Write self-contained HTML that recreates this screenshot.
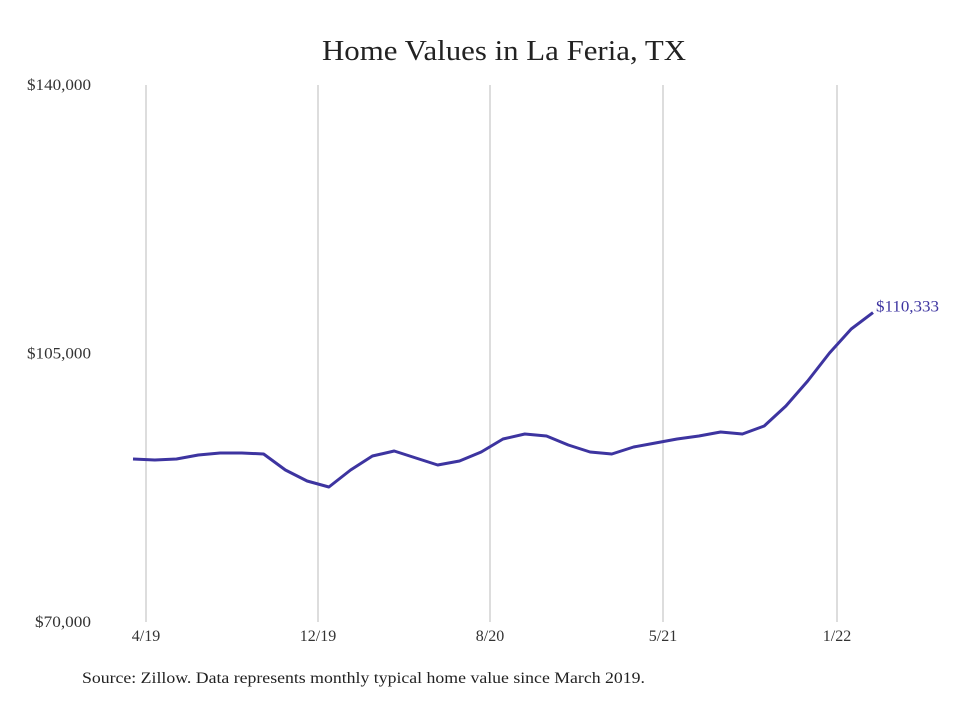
<!DOCTYPE html>
<html><head><meta charset="utf-8"><style>
body{margin:0;background:#fff;}
svg text{font-family:"Liberation Serif",serif;}
</style></head><body>
<svg width="980" height="699" viewBox="0 0 980 699">
<rect width="980" height="699" fill="#fff"/>
<text x="322" y="60" font-size="28" textLength="364" lengthAdjust="spacingAndGlyphs" fill="#222">Home Values in La Feria, TX</text>
<g id="grid"></g>
<g id="yticks"></g>
<g id="xticks"></g>
<path id="line" fill="none" stroke="#3d34a0" stroke-width="3" stroke-linejoin="round"/>
<text id="endlabel" font-size="16" textLength="63" lengthAdjust="spacingAndGlyphs" fill="#3d34a0"></text>
<text x="82" y="683" font-size="16" textLength="563" lengthAdjust="spacingAndGlyphs" fill="#222">Source: Zillow. Data represents monthly typical home value since March 2019.</text>
</svg>
<script>
const values=[91247,91117,91247,91768,92029,92029,91899,89813,88379,87597,89813,91638,92290,91378,90465,90987,92160,93854,94506,94245,93072,92160,91899,92811,93333,93854,94245,94767,94506,95549,98156,101414,105064,108193,110333];
const yTicks=[70000,105000,140000];
const yTickLabels=["$70,000","$105,000","$140,000"];
const xTickLabels=["4/19","12/19","8/20","5/21","1/22"];
const endLabel="$110,333";
const NS="http://www.w3.org/2000/svg";
const x0=133,x1=873,yTop=85,yBot=622;
function xs(i){return x0+(x1-x0)*i/(values.length-1);}
function ys(v){return yBot-(v-70000)/(140000-70000)*(yBot-yTop);}
const gridX=[146,318,490,663,837];
const grid=document.getElementById('grid'),xt=document.getElementById('xticks'),yt=document.getElementById('yticks');
xTickLabels.forEach((l,k)=>{
 const gx=gridX[k];
 const ln=document.createElementNS(NS,'line');
 ln.setAttribute('x1',gx);ln.setAttribute('x2',gx);ln.setAttribute('y1',yTop);ln.setAttribute('y2',yBot);
 ln.setAttribute('stroke','#bbb');ln.setAttribute('stroke-width','1');
 
 
 grid.appendChild(ln);
 const t=document.createElementNS(NS,'text');
 t.setAttribute('x',gx);t.setAttribute('y',641);t.setAttribute('font-size','16');t.setAttribute('text-anchor','middle');t.setAttribute('fill','#333');
 t.textContent=l;
 
 
 xt.appendChild(t);
});
yTicks.forEach((v,k)=>{
 const t=document.createElementNS(NS,'text');
 const w=yTickLabels[k].length*8;
 t.setAttribute('x',91-w);t.setAttribute('y',ys(v)+5);t.setAttribute('font-size','16');t.setAttribute('fill','#333');
 t.setAttribute('textLength',w);t.setAttribute('lengthAdjust','spacingAndGlyphs');
 t.textContent=yTickLabels[k];
 
 
 yt.appendChild(t);
});
document.getElementById('line').setAttribute('d',values.map((v,i)=>(i?'L':'M')+xs(i).toFixed(1)+','+ys(v).toFixed(1)).join(''));
const el=document.getElementById('endlabel');
el.setAttribute('x',xs(values.length-1)+3);el.setAttribute('y',ys(values[values.length-1])-1);
el.textContent=endLabel;
</script>
</body></html>
